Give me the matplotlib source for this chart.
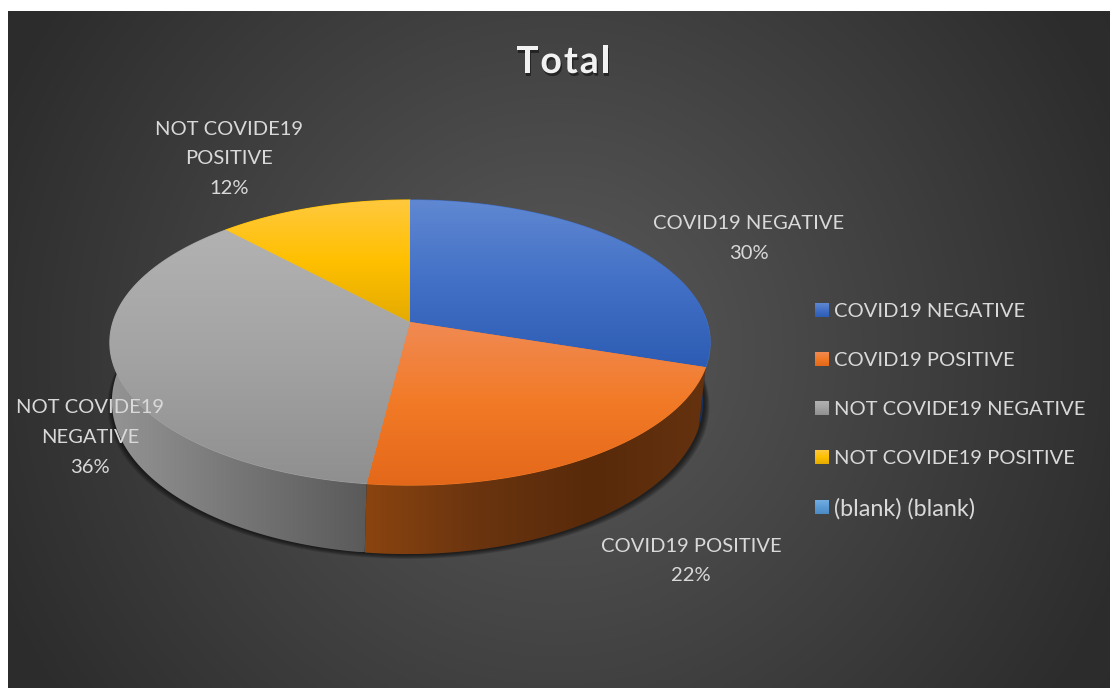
import numpy as np
import matplotlib
matplotlib.use('Agg')
import matplotlib.pyplot as plt
import matplotlib.patheffects as pe
from matplotlib.colors import LinearSegmentedColormap
from matplotlib.path import Path

plt.rcParams['font.family'] = ['Lato', 'DejaVu Sans']

title = "Total"
legend_names = ["COVID19 NEGATIVE", "COVID19 POSITIVE", "NOT COVIDE19 NEGATIVE",
                "NOT COVIDE19 POSITIVE", "(blank) (blank)"]
legend_sizes = [14.5, 14.5, 14.5, 14.5, 16.8]
slice_values = [30, 22, 36, 12]
label_lines = [["COVID19 NEGATIVE"], ["COVID19 POSITIVE"], ["NOT COVIDE19", "NEGATIVE"], ["NOT COVIDE19", "POSITIVE"]]
label_pos = [(749, 238.5), (691, 561), (90, 437.5), (229, 159)]
legend_y = [310, 359, 408, 457, 507]

top_colors = [["#6088d2", "#4270c6", "#2d5cb4"],
              ["#f08a54", "#f27a26", "#e4681a"],
              ["#b2b2b2", "#a3a3a3", "#8f8f8f"],
              ["#ffc93f", "#ffc000", "#e4ab00"]]
side_colors = [["#1f3d78", "#16305f"],
               ["#8a4410", "#6a340f", "#582a0a", "#65320f"],
               ["#949494", "#767676", "#5a5a5a"],
               ["#8a6a00", "#8a6a00"]]
key_colors = top_colors + [["#70ade2", "#5b9bd5", "#4c8ac4"]]

# pie geometry in pixels, a tilted disc with perspective
cx, cy = 410, 322
rx, ry, persp = 297, 139.6, 0.144
side_sx, side_dx, side_sy, side_dy = 0.985, -2.5, 1.07, 57.6
line_gap = 29.7

fig = plt.figure(figsize=(11.1, 6.88), dpi=100, facecolor='white')
ax = fig.add_axes([0, 0, 1, 1])
ax.set_xlim(0, 1110)
ax.set_ylim(688, 0)
ax.axis('off')


def rim(frac, scale=1.0):
    th = 2 * np.pi * np.asarray(frac)
    d = 1 + persp * np.cos(th)
    return cx + scale * rx * np.sin(th) / d, cy - scale * ry * np.cos(th) / d


def lower(x, y):
    return cx + (x - cx) * side_sx + side_dx, cy + (y - cy) * side_sy + side_dy


def gradient(colors, box, clip=None, vertical=True, z=1):
    x0, x1, y0, y1 = box
    ramp = np.linspace(0, 1, 256)
    ramp = ramp[:, None] if vertical else ramp[None, :]
    cmap = LinearSegmentedColormap.from_list('g', colors)
    im = ax.imshow(ramp, cmap=cmap, extent=(x0, x1, y1, y0), aspect='auto',
                   interpolation='bilinear', zorder=z, vmin=0, vmax=1)
    if clip is not None:
        if not isinstance(clip, Path):
            clip = Path(np.column_stack(clip))
        im.set_clip_path(clip, transform=ax.transData)
    return im


# backdrop, lighter in the middle
yy, xx = np.mgrid[11:688, 8:1110]
dist = np.clip(np.hypot((xx - 555) / 800, (yy - 350) / 800), 0, 1)
back = LinearSegmentedColormap.from_list('b', [(0, "#5a5a5a"), (0.75, "#2d2d2d"), (1, "#282828")])
ax.imshow(dist, cmap=back, extent=(8, 1110, 688, 11), aspect='auto', zorder=0, vmin=0, vmax=1)

# soft shadow below the disc
loop = np.linspace(0, 1, 361)
lx, ly = lower(*rim(loop))
for k in range(6, 0, -1):
    ax.fill(lx + (lx - cx) * k * 0.003 + 1, ly + k * 0.8, color='black', alpha=0.13, lw=0, zorder=1)

edges = np.concatenate([[0], np.cumsum(slice_values)]) / np.sum(slice_values)

# outer wall as a strip of quads, so its silhouette follows the tangent between the rims
for i in range(len(slice_values)):
    t = np.linspace(edges[i], edges[i + 1], 160)
    x, y = rim(t)
    bx, by = lower(x, y)
    ux, uy = rim(t, 0.97)
    quads = []
    for a in range(len(t) - 1):
        quads.append(Path([(x[a], y[a]), (x[a + 1], y[a + 1]), (bx[a + 1], by[a + 1]), (bx[a], by[a]), (x[a], y[a])]))
        quads.append(Path([(ux[a], uy[a]), (ux[a + 1], uy[a + 1]), (x[a + 1], y[a + 1]), (x[a], y[a]), (ux[a], uy[a])]))
    strip = Path.make_compound_path(*quads)
    left, right = max(min(x.min(), bx.min()), 100), max(x.max(), bx.max())
    top, bottom = min(uy.min(), by.min()), max(uy.max(), by.max())
    gradient(side_colors[i], (left, right, top, bottom), strip, vertical=False, z=2)

# top faces, a flat fill first so no seams show between the gradients
for i in range(len(slice_values)):
    t = np.linspace(edges[i], edges[i + 1], 300)
    x, y = rim(t)
    px = np.concatenate([[cx], x, [cx]])
    py = np.concatenate([[cy], y, [cy]])
    ax.fill(px, py, color=top_colors[i][1], lw=0.8, zorder=2.5)
    gradient(top_colors[i], (px.min(), px.max(), py.min(), py.max()), (px, py), z=3)

# data labels, one text per line to hold the line pitch
for lines, val, (lab_x, lab_y) in zip(label_lines, slice_values, label_pos):
    rows = lines + [f"{val}%"]
    for j, row in enumerate(rows):
        ax.text(lab_x, lab_y + (j - (len(rows) - 1) / 2) * line_gap, row, color='#d9d9d9',
                fontsize=14.5, ha='center', va='center', zorder=5)

# legend
for name, yc, cols, size in zip(legend_names, legend_y, key_colors, legend_sizes):
    gradient(cols, (815, 829, yc - 7, yc + 7), z=5)
    ax.text(834.5, yc + 1.5, name, color='#d9d9d9', fontsize=size, ha='left', va='center', zorder=5)

# title, tracked out a little
shadow = [pe.withSimplePatchShadow(offset=(1, -2), shadow_rgbFace='black', alpha=0.45)]
tx = 516.0
renderer = fig.canvas.get_renderer()
for ch in title:
    t = ax.text(tx, 73, ch, color='#f2f2f2', fontsize=27, fontweight='bold', ha='left', va='baseline',
                zorder=5, path_effects=shadow)
    tx += t.get_window_extent(renderer).width + 2.0

ax.set_xlim(0, 1110)
ax.set_ylim(688, 0)
fig.savefig("out.png", dpi=100, facecolor='white')
